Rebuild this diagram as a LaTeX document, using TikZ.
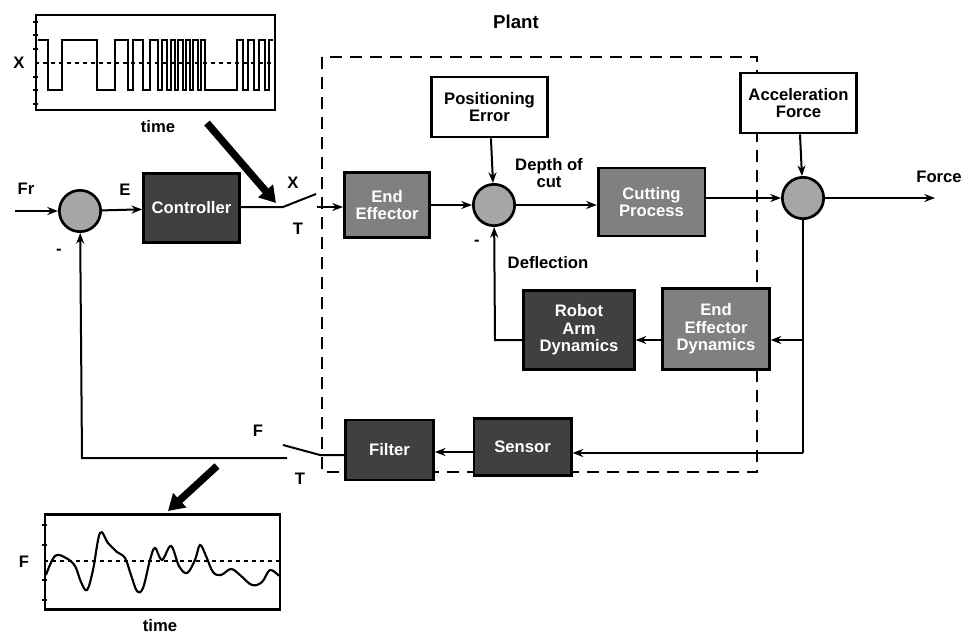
\documentclass[tikz,border=0pt]{standalone}
\usepackage{fontspec}
\setmainfont{Liberation Sans}
\usetikzlibrary{arrows.meta,calc}
\begin{document}
\begin{tikzpicture}[x=0.75pt,y=-0.75pt,
  font=\fontsize{12.5}{13}\selectfont\bfseries,
  line width=1.5pt,
  sig/.style={-{Stealth[length=8pt,width=6pt]}},
  darkblk/.style={draw, line width=2pt, fill=black!75, text=white, align=center, inner sep=1pt},
  midblk/.style={draw, line width=2pt, fill=black!50, text=white, align=center, inner sep=1pt},
  lightblk/.style={draw, line width=2pt, fill=white, text=black, align=center, inner sep=1pt},
  sumj/.style={circle, draw, line width=2pt, fill=black!35, minimum size=31pt, inner sep=0pt},
  lbl/.style={inner sep=1pt},
  bigarrow/.style={line width=5.5pt, -{Triangle[length=12pt,width=14pt]}},
  plotbox/.style={draw, line width=1.8pt},
]
\useasboundingbox (0,0) rectangle (967,638);

% ---------- top plot ----------
\node[plotbox, minimum width=179pt, minimum height=71pt, inner sep=0pt] (plotX) at (155.5,62.5) {};
\draw[dashed, line width=1.3pt] (plotX.west |- 0,63) -- (plotX.east |- 0,63);
\foreach \yy in {22,35,49,77,90,104} \draw[line width=1pt] (33,\yy) -- (38,\yy);
\draw[line width=1.6pt]
  (38,40) -- (48,40) -- (48,90) -- (62,90) -- (62,40) -- (97,40) -- (97,90)
  -- (115,90) -- (115,40) -- (128,40) -- (128,90) -- (133,90) -- (133,40)
  -- (143,40) -- (143,90) -- (150,90) -- (150,40) -- (158,40) -- (158,90)
  -- (162,90) -- (162,40) -- (167,40) -- (167,90) -- (171,90) -- (171,40)
  -- (175,40) -- (175,90) -- (178,90) -- (178,40) -- (183,40) -- (183,90)
  -- (186,90) -- (186,40) -- (190,40) -- (190,90) -- (193,90) -- (193,40)
  -- (198,40) -- (198,90) -- (201,90) -- (201,40) -- (205,40) -- (205,90)
  -- (237,90) -- (237,40) -- (243,40) -- (243,90) -- (248,90) -- (248,40)
  -- (254,40) -- (254,90) -- (259,90) -- (259,40) -- (265,40) -- (265,90)
  -- (269,90) -- (269,40) -- (273,40);
\node[lbl] (xlab) at (19,63) {X};
\node[lbl] (tlab1) at (158,127) {time};
\coordinate (ba1s) at (207,123);
\coordinate (ba1e) at (276,203);
\draw[bigarrow] (ba1s) -- (ba1e);

% ---------- bottom plot ----------
\node[plotbox, minimum width=176pt, minimum height=71pt, inner sep=0pt] (plotF) at (162.5,562) {};
\draw[dashed, line width=1.3pt] (plotF.west |- 0,561) -- (plotF.east |- 0,561);
\foreach \yy in {525,545,580,600} \draw[line width=1pt] (42,\yy) -- (47,\yy);
\draw[line width=1.6pt] plot[smooth, tension=0.6] coordinates {
 (46,575) (55,556) (66,558) (75,566) (81,582) (87,590) (93,570) (100,533)
 (108,543) (117,552) (125,558) (131,575) (137,591) (143,588) (150,560) (155,548)
 (162,560) (171,546) (179,566) (187,573) (195,560) (200,545) (206,556) (213,572)
 (221,575) (231,569) (240,575) (252,585) (262,582) (270,570) (279,576)};
\node[lbl] (flab) at (24,562) {F};
\node[lbl] (tlab2) at (160,626) {time};
\coordinate (ba2s) at (217,466);
\coordinate (ba2e) at (168,511);
\draw[bigarrow] (ba2s) -- (ba2e);

% ---------- plant boundary ----------
\draw[line width=2pt, dash pattern=on 9pt off 6pt] (322,57) rectangle (757,472);
\node[lbl, font=\fontsize{14}{15}\selectfont\bfseries] (plant) at (516,22) {Plant};

% ---------- blocks ----------
\node[sumj] (s1) at (80,211) {};
\node[darkblk, minimum width=72pt, minimum height=52pt] (ctrl) at (191.5,208) {Controller};
\node[midblk, minimum width=64pt, minimum height=49pt] (ee) at (387,205) {End\\Effector};
\node[lightblk, minimum width=87pt, minimum height=45pt] (pe) at (489.5,107) {Positioning\\Error};
\node[sumj] (s2) at (494,205) {};
\node[midblk, minimum width=80pt, minimum height=51pt] (cp) at (651.5,202) {Cutting\\Process};
\node[lightblk, minimum width=87pt, minimum height=45pt] (af) at (798.5,103) {Acceleration\\Force};
\node[sumj] (s3) at (803,198) {};
\node[darkblk, minimum width=83pt, minimum height=59pt] (rad) at (579,330) {Robot\\Arm\\Dynamics};
\node[midblk, minimum width=80pt, minimum height=61pt] (eed) at (716,329) {End\\Effector\\Dynamics};
\node[darkblk, minimum width=73pt, minimum height=43pt] (sens) at (522.5,447) {Sensor};
\node[darkblk, minimum width=66pt, minimum height=45pt] (filt) at (389.5,450) {Filter};

% ---------- labels ----------
\node[lbl] (frlab) at (26,189) {Fr};
\node[lbl] (elab) at (125,190) {E};
\node[lbl] (m1) at (59,252) {-};
\node[lbl] (xsw) at (293,183) {X};
\node[lbl] (tsw1) at (298,229) {T};
\node[lbl, align=center] (doc) at (549,173) {Depth of\\cut};
\node[lbl] (m2) at (477,243) {-};
\node[lbl] (defl) at (548,263) {Deflection};
\node[lbl] (forcelab) at (939,177) {Force};
\node[lbl] (fsw) at (258,431) {F};
\node[lbl] (tsw2) at (300,479) {T};

% ---------- connectors ----------
\coordinate (fr0) at (15,211);
\draw[sig] (fr0) -- (s1);
\draw[sig] (s1) -- (ctrl);
% top switch
\coordinate (sw1a) at (283,207);
\coordinate (sw1b) at (316,194);
\coordinate (sw1c) at (317,207);
\draw (ctrl.east |- sw1a) -- (sw1a) -- (sw1b);
\draw[sig] (sw1c) -- (ee.west |- sw1c);
\draw[sig] (ee.east |- s2) -- (s2);
\draw[sig] (pe) -- (s2);
\draw[sig] (s2) -- (cp.west |- s2);
\draw[sig] (cp.east |- s3) -- (s3);
\draw[sig] (af) -- (s3);
\coordinate (fout) at (935,198);
\draw[sig] (s3) -- (fout);
% inner loop
\coordinate (brk1) at (803,340);
\coordinate (brk2) at (803,453);
\draw (s3) -- (brk2);
\draw[sig] (brk1) -- (eed.east |- brk1);
\draw[sig] (eed.west |- 0,340) -- (rad.east |- 0,340);
\coordinate (rl) at (495,340);
\draw[sig] (rad.west |- rl) -- (rl) -- (s2);
% sensor path
\draw[sig] (brk2) -- (sens.east |- brk2);
\draw[sig] (sens.west |- 0,452) -- (filt.east |- 0,452);
% bottom switch
\coordinate (sw2a) at (320,455);
\coordinate (sw2b) at (283,445);
\coordinate (sw2c) at (287,458);
\coordinate (fbk) at (82,458);
\draw (filt.west |- sw2a) -- (sw2a) -- (sw2b);
\draw[sig] (sw2c) -- (fbk) -- (s1);
\end{tikzpicture}
\end{document}
